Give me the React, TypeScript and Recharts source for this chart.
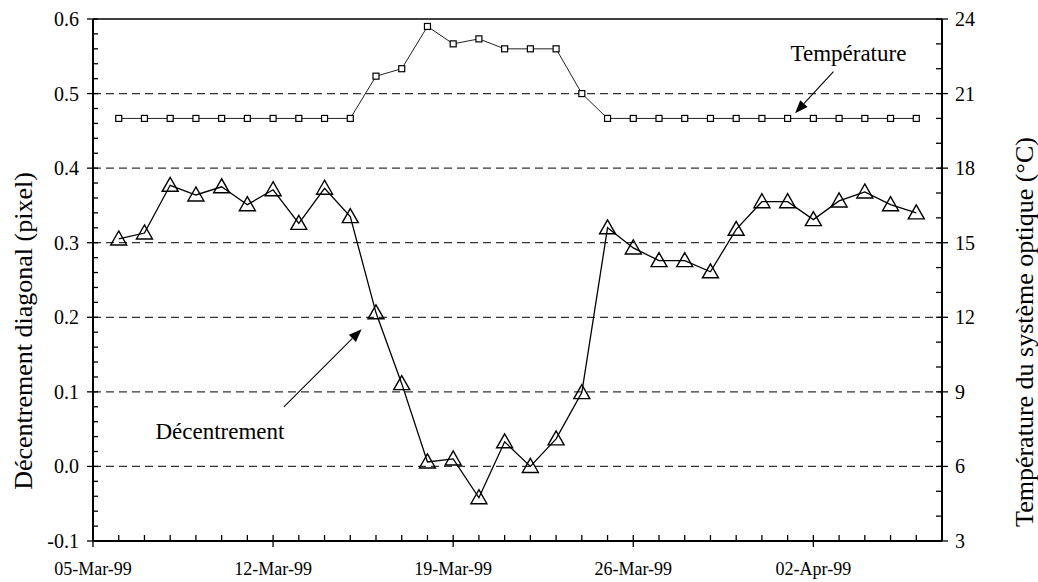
import { LineChart, Line, XAxis, YAxis, ReferenceLine } from "recharts";

// days counted from 05-Mar-99 (day 0)
const days = [
  1, 2, 3, 4, 5, 6, 7, 8, 9, 10, 11, 12, 13, 14, 15, 16, 17, 18, 19, 20, 21, 22,
  23, 24, 25, 26, 27, 28, 29, 30, 31, 32,
];
const decentrement = [
  0.305, 0.313, 0.377, 0.364, 0.375, 0.351, 0.371, 0.326, 0.373, 0.335, 0.206,
  0.111, 0.006, 0.01, -0.042, 0.033, 0.0, 0.037, 0.099, 0.32, 0.293, 0.276,
  0.276, 0.261, 0.318, 0.355, 0.355, 0.331, 0.356, 0.368, 0.351, 0.34,
];
const temperature = [
  20, 20, 20, 20, 20, 20, 20, 20, 20, 20, 21.7, 22.0, 23.7, 23.0, 23.2, 22.8,
  22.8, 22.8, 21.0, 20, 20, 20, 20, 20, 20, 20, 20, 20, 20, 20, 20, 20,
];

const dateTicks = [0, 7, 14, 21, 28];
const dateLabels = ["05-Mar-99", "12-Mar-99", "19-Mar-99", "26-Mar-99", "02-Apr-99"];
const gridValues = [0, 0.1, 0.2, 0.3, 0.4, 0.5];

const data = days.map((d, i) => ({ day: d, dec: decentrement[i], temp: temperature[i] }));

const xTicks = Array.from({ length: 34 }, (_, i) => i);
const leftTicks = Array.from({ length: 36 }, (_, i) => Math.round((-0.1 + i * 0.02) * 100) / 100);
const rightTicks = Array.from({ length: 22 }, (_, i) => 3 + i);

const FONT = "'Liberation Serif', 'Times New Roman', serif";

const XTick = (props: any) => {
  const { x, y, payload } = props;
  const idx = dateTicks.indexOf(payload.value);
  const major = idx >= 0;
  return (
    <g>
      <line x1={x} x2={x} y1={y - 6} y2={major ? y + 6 : y} stroke="#000" strokeWidth={1.3} />
      {major && (
        <text x={x} y={y + 34} textAnchor="middle" fontSize={18} fontFamily={FONT} fill="#000">
          {dateLabels[idx]}
        </text>
      )}
    </g>
  );
};

const LeftTick = (props: any) => {
  const { x, y, payload } = props;
  const v = payload.value;
  const major = Math.abs(v * 10 - Math.round(v * 10)) < 1e-6;
  return (
    <g>
      <line x1={major ? x - 6 : x} x2={x + 5} y1={y} y2={y} stroke="#000" strokeWidth={1.3} />
      {major && (
        <text x={x - 14} y={y} dy="0.35em" textAnchor="end" fontSize={20} fontFamily={FONT} fill="#000">
          {v.toFixed(1)}
        </text>
      )}
    </g>
  );
};

const RightTick = (props: any) => {
  const { x, y, payload } = props;
  const v = payload.value;
  const major = v % 3 === 0;
  return (
    <g>
      <line x1={x - 6} x2={major ? x + 6 : x} y1={y} y2={y} stroke="#000" strokeWidth={1.3} />
      {major && (
        <text x={x + 13} y={y} dy="0.35em" textAnchor="start" fontSize={20} fontFamily={FONT} fill="#000">
          {v}
        </text>
      )}
    </g>
  );
};

const Triangle = (props: any) => {
  const { cx, cy } = props;
  if (cx == null || cy == null) return <g key={props.index} />;
  return (
    <polygon
      key={props.index}
      points={`${cx},${cy - 8} ${cx - 8},${cy + 6} ${cx + 8},${cy + 6}`}
      fill="none"
      stroke="#000"
      strokeWidth={1.4}
    />
  );
};

const Square = (props: any) => {
  const { cx, cy } = props;
  if (cx == null || cy == null) return <g key={props.index} />;
  return (
    <rect key={props.index} x={cx - 3} y={cy - 3} width={6} height={6} fill="#fff" stroke="#000" strokeWidth={1.2} />
  );
};

const arrowShape = (label: string, dx: number, dy: number) => (props: any) => {
  const { x1, y1, x2, y2 } = props;
  const ang = Math.atan2(y2 - y1, x2 - x1);
  const len = 13;
  const w = 5;
  const bx = x2 - len * Math.cos(ang);
  const by = y2 - len * Math.sin(ang);
  const px = -Math.sin(ang) * w;
  const py = Math.cos(ang) * w;
  return (
    <g>
      <line x1={x1} y1={y1} x2={bx} y2={by} stroke="#000" strokeWidth={1.1} />
      <polygon points={`${x2},${y2} ${bx + px},${by + py} ${bx - px},${by - py}`} fill="#000" />
      <text x={x1 + dx} y={y1 + dy} textAnchor="middle" fontSize={23} fontFamily={FONT} fill="#000">
        {label}
      </text>
    </g>
  );
};

const LeftTitle = (props: any) => {
  const vb = props.viewBox || { x: 0, y: 19, width: 93, height: 522 };
  const x = vb.x + 23;
  const y = vb.y + vb.height / 2 + 51;
  return (
    <text x={x} y={y} transform={`rotate(-90 ${x} ${y})`} textAnchor="middle" dy="0.35em" fontSize={26} fontFamily={FONT} fill="#000">
      Décentrement diagonal (pixel)
    </text>
  );
};

const RightTitle = (props: any) => {
  const vb = props.viewBox || { x: 942, y: 19, width: 96, height: 522 };
  const x = vb.x + 82;
  const y = vb.y + vb.height / 2 + 52;
  return (
    <text x={x} y={y} transform={`rotate(-90 ${x} ${y})`} textAnchor="middle" dy="0.35em" fontSize={26} fontFamily={FONT} fill="#000">
      Température du système optique (°C)
    </text>
  );
};

export default function App() {
  return (
    <div style={{ position: "absolute", left: 0, top: 0, background: "#fff" }}>
      <LineChart width={1038} height={582} data={data} margin={{ top: 19, right: 0, bottom: 0, left: 0 }} style={{ fontFamily: FONT }}>
        <XAxis
          dataKey="day"
          type="number"
          domain={[0, 33]}
          ticks={xTicks}
          interval={0}
          height={41}
          tickSize={0}
          tickMargin={0}
          tick={<XTick />}
          axisLine={{ stroke: "#000", strokeWidth: 2 }}
          tickLine={false}
        />
        <YAxis
          yAxisId="left"
          type="number"
          domain={[-0.1, 0.6]}
          ticks={leftTicks}
          interval={0}
          width={93}
          tickSize={0}
          tickMargin={0}
          tick={<LeftTick />}
          axisLine={{ stroke: "#000", strokeWidth: 2 }}
          tickLine={false}
          label={{ content: LeftTitle }}
        />
        <YAxis
          yAxisId="right"
          orientation="right"
          type="number"
          domain={[3, 24]}
          ticks={rightTicks}
          interval={0}
          width={96}
          tickSize={0}
          tickMargin={0}
          tick={<RightTick />}
          axisLine={{ stroke: "#000", strokeWidth: 2 }}
          tickLine={false}
          label={{ content: RightTitle }}
        />
        {gridValues.map((v) => (
          <ReferenceLine key={v} yAxisId="left" y={v} stroke="#333" strokeWidth={1.2} strokeDasharray="8 5" />
        ))}
        <ReferenceLine yAxisId="left" y={0.6} stroke="#000" strokeWidth={1.5} />
        <Line
          yAxisId="right"
          type="linear"
          dataKey="temp"
          stroke="#222"
          strokeWidth={1}
          dot={Square}
          isAnimationActive={false}
        />
        <Line
          yAxisId="left"
          type="linear"
          dataKey="dec"
          stroke="#000"
          strokeWidth={1.3}
          dot={Triangle}
          isAnimationActive={false}
        />
        <ReferenceLine
          yAxisId="right"
          segment={[{ x: 28.78, y: 21.88 }, { x: 27.29, y: 20.21 }]}
          shape={arrowShape("Température", 15, -11)}
        />
        <ReferenceLine
          yAxisId="left"
          segment={[{ x: 7.42, y: 0.08 }, { x: 10.44, y: 0.184 }]}
          shape={arrowShape("Décentrement", -64, 32)}
        />
      </LineChart>
    </div>
  );
}
